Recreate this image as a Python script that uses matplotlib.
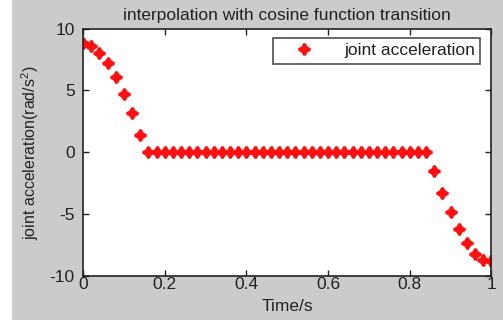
import numpy as np
import matplotlib
matplotlib.use('Agg')
import matplotlib.pyplot as plt
from matplotlib.patches import Rectangle

# time samples (step 0.02 s) and joint acceleration
t = np.round(np.arange(0, 51) * 0.02, 2)
acc_start = [8.8, 8.6, 8.0, 7.2, 6.1, 4.7, 3.2, 1.4]
acc_mid = [0.0] * 35
acc_end = [-1.5, -3.3, -4.8, -6.2, -7.3, -8.2, -8.7, -8.8]
acc = acc_start + acc_mid + acc_end

x_ticks = [0, 0.2, 0.4, 0.6, 0.8, 1]
x_labels = ['0', '0.2', '0.4', '0.6', '0.8', '1']
y_ticks = [-10, -5, 0, 5, 10]

plt.rcParams['font.family'] = ['Liberation Sans', 'DejaVu Sans']
plt.rcParams['axes.unicode_minus'] = False
plt.rcParams['mathtext.fontset'] = 'custom'
plt.rcParams['mathtext.rm'] = 'Liberation Sans'

fig = plt.figure(figsize=(5.03, 3.25), dpi=100, facecolor='white')
# grey MATLAB figure background
fig.patches.append(Rectangle((12 / 503, 5 / 325), 1 - 12 / 503, 1 - 5 / 325,
                             transform=fig.transFigure, facecolor='#cbcbcb',
                             edgecolor='none', zorder=-10))

ax = fig.add_axes([0.165, 0.151, 0.812, 0.761])
ax.plot(t, acc, linestyle='none', marker=(4, 1, 0), markersize=8,
        color='#ff1010', markeredgewidth=2.0, label='joint acceleration')

ax.set_xlim(0, 1)
ax.set_ylim(-10, 10)
ax.set_xticks(x_ticks)
ax.set_xticklabels(x_labels)
ax.set_yticks(y_ticks)
ax.tick_params(direction='in', top=True, right=True, length=4, width=1,
               labelsize=12.5, colors='#222222')
ax.tick_params(axis='x', pad=1)
ax.tick_params(axis='y', pad=6)
for s in ax.spines.values():
    s.set_color('#222222')
    s.set_linewidth(1.2)

ax.set_title('interpolation with cosine function transition', fontsize=12.5,
             color='#222222', pad=6)
ax.set_xlabel('Time/s', fontsize=12.5, color='#222222', labelpad=5)
ax.set_ylabel('joint acceleration(rad/s$^2$)', fontsize=11.5, color='#222222', labelpad=6)

leg = ax.legend(loc='upper right', fontsize=12.5, frameon=True, fancybox=False,
                edgecolor='#222222', borderpad=0.3, handletextpad=0.8,
                handlelength=3.0, bbox_to_anchor=(0.973, 0.962), borderaxespad=0)
leg.get_frame().set_linewidth(1.2)
for txt in leg.get_texts():
    txt.set_color('#222222')

fig.savefig('out.png', dpi=100, facecolor=fig.get_facecolor())
